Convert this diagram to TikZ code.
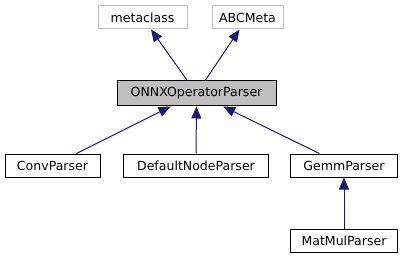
\documentclass[tikz,border=0pt]{standalone}
\usepackage{fontspec}
\setmainfont{DejaVu Sans}
\usetikzlibrary{arrows.meta}
\definecolor{edgeblue}{HTML}{191970}
\definecolor{boxgrey}{HTML}{BFBFBF}

\begin{document}
\begin{tikzpicture}[x=0.75pt,y=0.75pt,>={Triangle[length=9pt,width=7.5pt]},
    cls/.style={draw,line width=0.75pt,minimum height=17.25pt,inner sep=0pt,
        font=\fontsize{9.4}{11}\selectfont},
    ext/.style={cls,draw=boxgrey},
    cur/.style={cls,fill=boxgrey,minimum height=18.75pt},
    inh/.style={->,draw=edgeblue,line width=0.75pt}]
    \useasboundingbox (0,0) rectangle (407,261);
    % base classes
    \node[ext,minimum width=66.75pt] (meta) at (142.5,243.5) {metaclass};
    \node[ext,minimum width=53.25pt] (abc) at (247.5,243.5) {ABCMeta};
    \node[cur,minimum width=119.25pt] (onnx) at (196.5,167.5) {ONNXOperatorParser};
    % derived parsers
    \node[cls,minimum width=71.25pt] (conv) at (52.5,95.5) {ConvParser};
    \node[cls,minimum width=108.75pt] (dflt) at (196,95.5) {DefaultNodeParser};
    \node[cls,minimum width=80.25pt] (gemm) at (344,95.5) {GemmParser};
    \node[cls,minimum width=80.25pt] (matmul) at (344,20.5) {MatMulParser};
    \foreach \sub/\super in {onnx/meta,onnx/abc,conv/onnx,dflt/onnx,gemm/onnx,matmul/gemm}{
        \draw[inh] (\sub) -- (\super);
    }
\end{tikzpicture}
\end{document}
